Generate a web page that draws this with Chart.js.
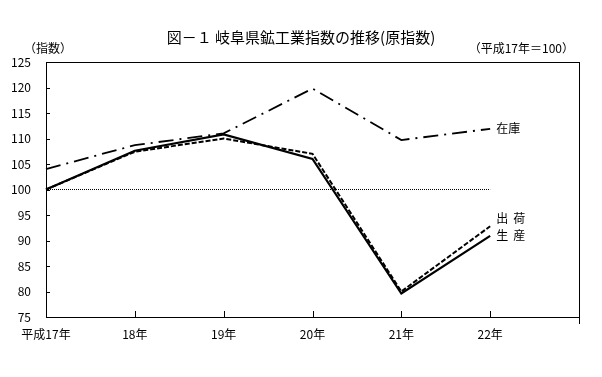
<!DOCTYPE html>
<html><head><meta charset="utf-8">
<script src="https://cdn.jsdelivr.net/npm/chart.js@4/dist/chart.umd.min.js"></script>
<style>html,body{margin:0;padding:0;background:#fff}</style>
</head><body>
<canvas id="c" width="602" height="377"></canvas>
<script>
const categories = ['平成17年','18年','19年','20年','21年','22年',''];
const seisan  = [100, 107.6, 110.8, 106.0, 79.6, 90.9];
const shukka  = [100, 107.4, 110.0, 107.0, 80.0, 92.8];
const zaiko   = [104.0, 108.7, 111.0, 119.8, 109.7, 111.9];
const baseLine = [100, 100, 100, 100, 100, 100];
const yTicks = [75,80,85,90,95,100,105,110,115,120,125];

const FONT = '"Noto Sans CJK JP", sans-serif';

const seriesLabels = {
  id: 'seriesLabels',
  afterDatasetsDraw(chart) {
    const ctx = chart.ctx;
    ctx.save();
    ctx.fillStyle = '#000';
    ctx.font = '12px ' + FONT;
    ctx.textBaseline = 'middle';
    ctx.textAlign = 'left';
    const items = [
      {ds: 2, text: ['在', '庫'], gap: 0, dy: 0},
      {ds: 1, text: ['出', '荷'], gap: 5, dy: -8},
      {ds: 0, text: ['生', '産'], gap: 5, dy: 0}
    ];
    items.forEach(it => {
      const meta = chart.getDatasetMeta(it.ds);
      const p = meta.data[meta.data.length - 1];
      let x = p.x + 6;
      it.text.forEach(ch => {
        ctx.fillText(ch, x, p.y + it.dy);
        x += ctx.measureText(ch).width + it.gap;
      });
    });
    ctx.restore();
  }
};

const frame = {
  id: 'frame',
  afterDraw(chart) {
    const {ctx, chartArea: a, scales} = chart;
    ctx.save();
    ctx.strokeStyle = '#000';
    ctx.lineWidth = 1;
    ctx.strokeRect(Math.round(a.left) + 0.5, Math.round(a.top) + 0.5, Math.round(a.right - a.left), Math.round(a.bottom - a.top));
    ctx.beginPath();
    scales.y.ticks.forEach(t => {
      const y = Math.round(scales.y.getPixelForValue(t.value)) + 0.5;
      ctx.moveTo(a.left, y); ctx.lineTo(a.left + 4, y);
    });
    for (let i = 0; i < categories.length; i++) {
      const x = Math.round(scales.x.getPixelForValue(i)) + 0.5;
      ctx.moveTo(x, a.bottom - 6); ctx.lineTo(x, a.bottom + (i === categories.length - 1 ? 7 : 0));
    }
    ctx.stroke();
    // texts
    ctx.fillStyle = '#000';
    ctx.textBaseline = 'middle';
    ctx.textAlign = 'center';
    ctx.font = '15px ' + FONT;
    ctx.fillText('図－１ 岐阜県鉱工業指数の推移(原指数)', 301, 37);
    ctx.font = '12px ' + FONT;
    ctx.textAlign = 'left';
    ctx.fillText('（指数）', 24, 48);
    ctx.textAlign = 'right';
    ctx.fillText('（平成17年＝100）', 574, 48);
    ctx.restore();
  }
};

new Chart(document.getElementById('c'), {
  type: 'line',
  data: {
    labels: categories,
    datasets: [
      {label: '生産', data: seisan, borderColor: '#000', borderWidth: 2.2, pointRadius: 0, tension: 0, fill: false},
      {label: '出荷', data: shukka, borderColor: '#000', borderWidth: 2, borderDash: [5, 2], pointRadius: 0, tension: 0, fill: false},
      {label: '在庫', data: zaiko, borderColor: '#000', borderWidth: 1.8, borderDash: [15, 6, 2, 6], pointRadius: 0, tension: 0, fill: false},
      {label: 'base', data: baseLine, borderColor: '#000', borderWidth: 1, borderDash: [1, 1], pointRadius: 0, tension: 0, fill: false}
    ]
  },
  options: {
    responsive: false,
    animation: false,
    layout: {padding: {left: 0, right: 23, top: 62, bottom: 0}},
    plugins: {legend: {display: false}, tooltip: {enabled: false}, title: {display: false}},
    scales: {
      x: {
        offset: false,
        grid: {display: false, drawTicks: false},
        border: {display: false},
        ticks: {autoSkip: false, maxRotation: 0, color: '#000', padding: 10, font: {size: 12, family: FONT}},
        afterFit(s) { s.height = 377 - 317; }
      },
      y: {
        min: 75, max: 125,
        afterBuildTicks(s) { s.ticks = yTicks.map(v => ({value: v})); },
        grid: {display: false, drawTicks: false},
        border: {display: false},
        ticks: {color: '#000', padding: 15, font: {size: 12, family: FONT}},
        afterFit(s) { s.width = 46; }
      }
    }
  },
  plugins: [seriesLabels, frame]
});
</script>
</body></html>
